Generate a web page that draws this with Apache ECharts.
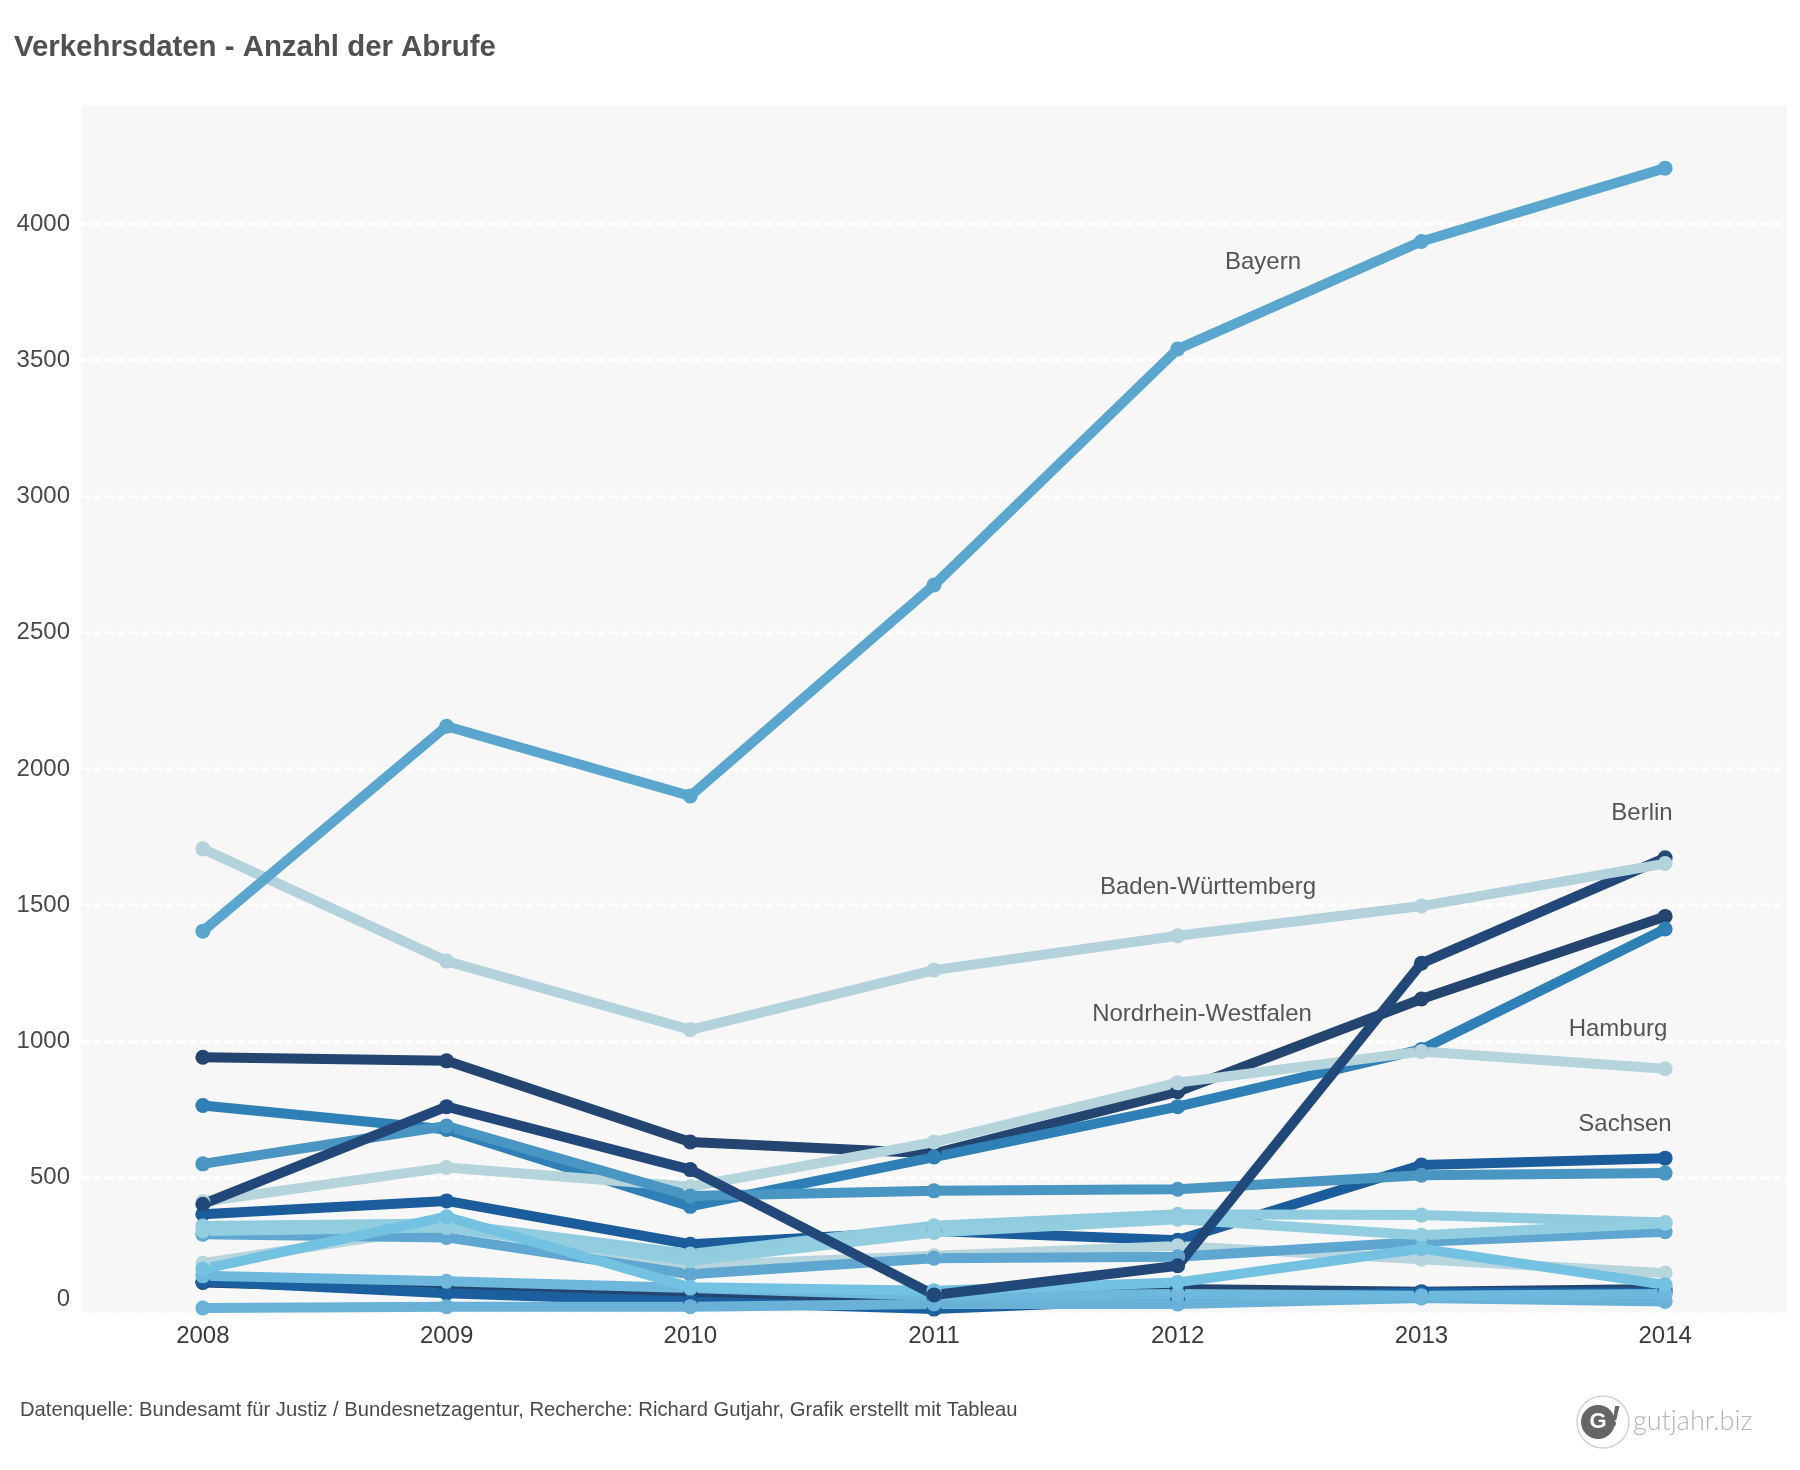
<!DOCTYPE html>
<html>
<head>
<meta charset="utf-8">
<script src="https://cdn.jsdelivr.net/npm/echarts@6/dist/echarts.min.js"></script>
<style>
  html, body { margin: 0; padding: 0; background: #fff; }
  #main { width: 1800px; height: 1470px; }
</style>
</head>
<body>
<div id="main"></div>
<script>
var years = ['2008', '2009', '2010', '2011', '2012', '2013', '2014'];

// values, drawn bottom to top
var navyLow = [116, 92, 73, 59, 92, 82, 92];
var blueLow = [120, 76, 46, 18, 55, 79, 79];
var nrw = [942, 929, 631, 589, 816, 1156, 1459];
var sachsen = [366, 415, 256, 305, 271, 547, 572];
var greyLine = [186, 323, 177, 214, 250, 201, 150];
var blueMid = [765, 677, 395, 576, 761, 971, 1413];
var hamburg = [412, 538, 467, 631, 849, 963, 900];
var steel = [551, 690, 433, 452, 458, 509, 517];
var midBlue = [293, 281, 146, 205, 210, 265, 302];
var light1 = [323, 332, 220, 324, 366, 363, 336];
var light2 = [305, 317, 195, 299, 348, 289, 333];
var lower1 = [140, 120, 95, 67, 73, 67, 73];
var sky = [165, 357, 98, 85, 116, 240, 107];
var lowest = [22, 27, 27, 37, 37, 59, 46];
var berlin = [403, 761, 530, 70, 177, 1287, 1674];
var bw = [1707, 1295, 1043, 1262, 1388, 1497, 1653];
var bayern = [1405, 2157, 1901, 2675, 3541, 3936, 4205];

var lines = [
  ['navyLow', navyLow, '#24456f'],
  ['blueLow', blueLow, '#1b5f9e'],
  ['Nordrhein-Westfalen', nrw, '#24456f'],
  ['Sachsen', sachsen, '#1b5c9c'],
  ['greyLine', greyLine, '#b7d5dc'],
  ['blueMid', blueMid, '#2e80b7'],
  ['Hamburg', hamburg, '#b5d4dc'],
  ['steel', steel, '#4a96c3'],
  ['midBlue', midBlue, '#5fa6d0'],
  ['light1', light1, '#90cbdf'],
  ['light2', light2, '#93cde0'],
  ['lowest', lowest, '#6ab1d8'],
  ['lower1', lower1, '#6db8dc'],
  ['sky', sky, '#74c2e2'],
  ['Berlin', berlin, '#22487a'],
  ['Baden-Württemberg', bw, '#b3d2db'],
  ['Bayern', bayern, '#5aa6cf']
];

var chart = echarts.init(document.getElementById('main'), null, { renderer: 'canvas' });
var fontName = '"Liberation Sans", Arial, sans-serif';

function note(text, x, y) {
  return {
    type: 'text',
    x: x,
    y: y,
    style: { text: text, font: '24px ' + fontName, fill: '#555555', textAlign: 'center', textVerticalAlign: 'middle' }
  };
}

var option = {
  animation: false,
  backgroundColor: '#ffffff',
  title: {
    text: 'Verkehrsdaten - Anzahl der Abrufe',
    left: 9,
    top: 28,
    textStyle: { fontFamily: fontName, fontSize: 29.4, fontWeight: 'bold', color: '#505050' }
  },
  grid: {
    left: 81,
    right: 13,
    top: 106,
    bottom: 156,
    backgroundColor: '#f7f7f7',
    borderWidth: 0,
    show: true
  },
  xAxis: {
    type: 'category',
    data: years,
    boundaryGap: true,
    axisLine: { show: false },
    axisTick: { show: false },
    axisLabel: { margin: 10, fontFamily: fontName, fontSize: 24, color: '#3a3a3a' }
  },
  yAxis: {
    type: 'value',
    min: 0,
    max: 4433,
    interval: 500,
    axisLine: { show: false },
    axisTick: { show: false },
    axisLabel: {
      margin: 11,
      fontFamily: fontName,
      fontSize: 24,
      lineHeight: 30,
      padding: [4, 0, 0, 0],
      color: '#4a4a4a',
      showMaxLabel: false,
      verticalAlignMinLabel: 'bottom',
      formatter: function (v) { return String(v); }
    },
    splitLine: {
      showMaxLine: false,
      lineStyle: { color: '#ffffff', type: [8, 4], width: 3.5 }
    }
  },
  series: lines.map(function (l) {
    return {
      name: l[0],
      type: 'line',
      data: l[1],
      symbol: 'circle',
      symbolSize: 15,
      showSymbol: true,
      clip: false,
      itemStyle: { color: l[2] },
      lineStyle: { color: l[2], width: 10 }
    };
  }),
  graphic: [
    note('Bayern', 1263, 262),
    note('Berlin', 1642, 813),
    note('Baden-Württemberg', 1208, 887),
    note('Nordrhein-Westfalen', 1202, 1014),
    note('Hamburg', 1618, 1029),
    note('Sachsen', 1625, 1124),
    {
      type: 'text',
      x: 20,
      y: 1410,
      style: {
        text: 'Datenquelle: Bundesamt für Justiz / Bundesnetzagentur, Recherche: Richard Gutjahr, Grafik erstellt mit Tableau',
        font: '20.2px ' + fontName,
        fill: '#4a4a4a',
        textVerticalAlign: 'middle'
      }
    },
    // logo
    { type: 'circle', shape: { cx: 1603, cy: 1422, r: 26 }, style: { fill: '#ffffff', stroke: '#d4d4d4', lineWidth: 1.5 } },
    { type: 'circle', shape: { cx: 1598, cy: 1422, r: 17 }, style: { fill: '#666666' } },
    {
      type: 'text', x: 1598, y: 1422,
      style: { text: 'G', font: 'bold 22px ' + fontName, fill: '#ffffff', textAlign: 'center', textVerticalAlign: 'middle' }
    },
    {
      type: 'text', x: 1615, y: 1418,
      style: { text: '!', font: 'italic bold 30px ' + fontName, fill: '#666666', textAlign: 'center', textVerticalAlign: 'middle' }
    },
    {
      type: 'text', x: 1633, y: 1421,
      style: { text: 'gutjahr.biz', font: '300 27px Lato', fill: '#b4b4b4', textVerticalAlign: 'middle' }
    }
  ]
};

chart.setOption(option);
</script>
</body>
</html>
